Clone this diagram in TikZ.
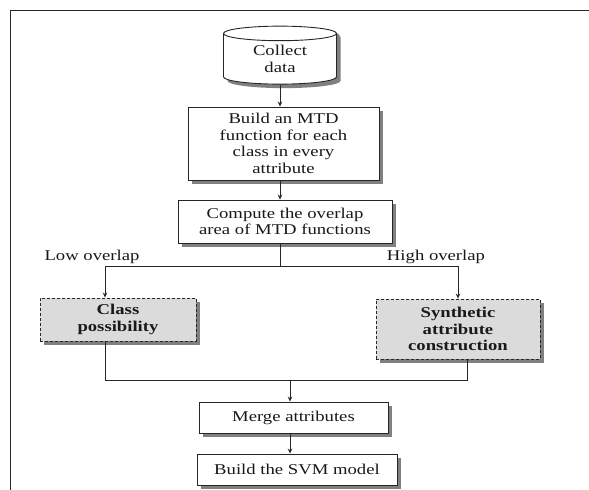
\documentclass[tikz,border=0pt]{standalone}
\usepackage{fontspec}
\setmainfont{Liberation Serif}[FakeStretch=1.25]
\usetikzlibrary{shapes.geometric,shadows,arrows.meta}

\tikzset{
  flowtxt/.style={font=\fontsize{15}{16.5}\selectfont, text=black!90},
  stepbox/.style={flowtxt, draw=black!85, line width=0.9bp, fill=white, align=center, inner sep=0pt,
    drop shadow={shadow xshift=4bp, shadow yshift=-4bp, fill=black!50, opacity=1}},
  choicebox/.style={stepbox, dash pattern=on 3bp off 2bp, fill=black!14, font=\fontsize{15}{16.5}\selectfont\bfseries},
  flowline/.style={draw=black!85, line width=0.8bp},
  flowarrow/.style={flowline, -{Stealth[length=5bp,width=4.5bp]}}
}

\begin{document}
\begin{tikzpicture}[x=1bp,y=-1bp]
\path[use as bounding box] (0,0) rectangle (589,490);
\draw[line width=1bp, black!85] (589,11) -- (10,11) -- (10,490);
\node[stepbox, cylinder, shape border rotate=90, aspect=0.27, minimum width=113bp, minimum height=58bp,
  drop shadow={shadow xshift=3bp, shadow yshift=-2bp, fill=black!50, opacity=1}] (collect) at (280,59) {Collect\\data};
\node[stepbox, minimum width=191bp, minimum height=73bp] (mtd) at (283.5,143.5) {Build an MTD\\function for each\\class in every\\attribute};
\node[stepbox, minimum width=214bp, minimum height=43bp] (overlap) at (285,221.5) {Compute the overlap\\area of MTD functions};
\node[choicebox, minimum width=156bp, minimum height=43bp] (class) at (118,319.5) {Class\\possibility};
\node[choicebox, minimum width=164bp, minimum height=60bp] (synth) at (458,329) {Synthetic\\attribute\\construction};
\node[stepbox, minimum width=189bp, minimum height=31bp] (merge) at (293.5,417.5) {Merge attributes};
\node[stepbox, minimum width=200bp, minimum height=31bp] (svm) at (297,469.5) {Build the SVM model};
\node[flowtxt] (low) at (92,257) {Low overlap};
\node[flowtxt] (high) at (436,257) {High overlap};
\coordinate (split) at (280,266);
\coordinate (lowend) at (105,266);
\coordinate (highend) at (458,266);
\coordinate (joinl) at (105,380);
\coordinate (joinr) at (467,380);
\coordinate (join) at (290,380);
\draw[flowarrow] (collect.south -| 280,0) -- (mtd.north -| 280,0);
\draw[flowarrow] (mtd.south -| 280,0) -- (overlap.north -| 280,0);
\draw[flowline] (overlap.south -| split) -- (split);
\draw[flowarrow] (split) -- (lowend) -- (lowend |- class.north);
\draw[flowarrow] (split) -- (highend) -- (highend |- synth.north);
\draw[flowline] (class.south -| joinl) -- (joinl) -- (joinr) -- (synth.south -| joinr);
\draw[flowarrow] (join) -- (merge.north -| join);
\draw[flowarrow] (merge.south -| join) -- (svm.north -| join);
\end{tikzpicture}
\end{document}
